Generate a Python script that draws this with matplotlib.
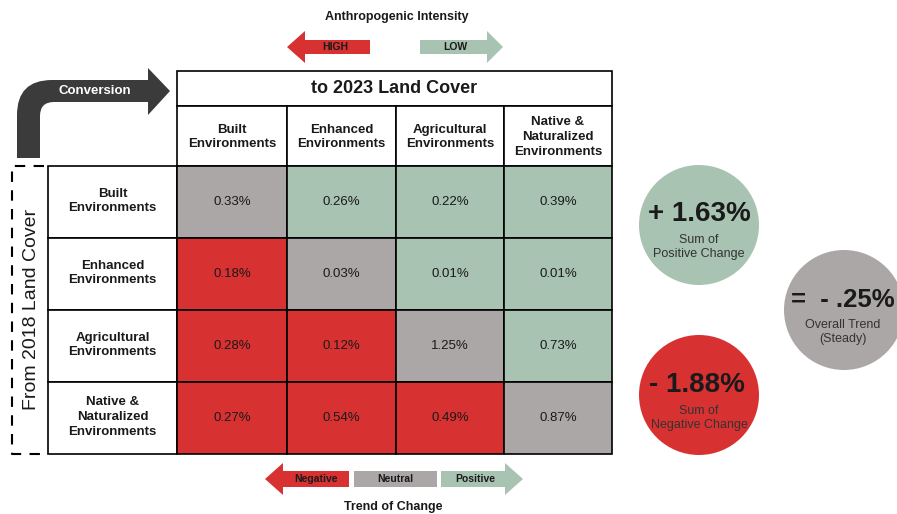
import matplotlib.pyplot as plt
from matplotlib.patches import Rectangle, Circle, Polygon, PathPatch
from matplotlib.path import Path

plt.rcParams['font.family'] = ['Liberation Sans', 'DejaVu Sans']

# data
land_types = ['Built\nEnvironments', 'Enhanced\nEnvironments',
              'Agricultural\nEnvironments', 'Native &\nNaturalized\nEnvironments']
values = [[0.33, 0.26, 0.22, 0.39],
          [0.18, 0.03, 0.01, 0.01],
          [0.28, 0.12, 1.25, 0.73],
          [0.27, 0.54, 0.49, 0.87]]
pos_label = '+ 1.63%'
neg_label = '- 1.88%'
trend_label = '=  - .25%'

RED = '#d83131'
GREEN = '#a8c3b1'
GRAY = '#aba7a6'
DARK = '#3b3b3b'
TXT = '#1a1a1a'

fig = plt.figure(figsize=(8.97, 5.14), dpi=100)
ax = fig.add_axes([0, 0, 1, 1])
ax.set_xlim(0, 897)
ax.set_ylim(514, 0)
ax.axis('off')

col_x = [177, 287, 396, 504, 612]
row_y = [166, 238, 310, 382, 454]
lab_x0 = 48

def cell_color(i, j):
    if i == j:
        return GRAY
    return GREEN if j > i else RED

# header
ax.add_patch(Rectangle((177, 71), 435, 35, fc='white', ec='black', lw=1.2))
ax.text(394.5, 88.5, 'to 2023 Land Cover', ha='center', va='center', fontsize=13,
        fontweight='bold', color=TXT)
for j, name in enumerate(land_types):
    ax.add_patch(Rectangle((col_x[j], 106), col_x[j+1]-col_x[j], 60, fc='white', ec='black', lw=1.2))
    ax.text((col_x[j]+col_x[j+1])/2, 137, name, ha='center', va='center', fontsize=9.5,
            fontweight='bold', linespacing=1.3, color=TXT)

# rows
for i, name in enumerate(land_types):
    y0, y1 = row_y[i], row_y[i+1]
    ax.add_patch(Rectangle((lab_x0, y0), col_x[0]-lab_x0, y1-y0, fc='white', ec='black', lw=1.2))
    ax.text((lab_x0+col_x[0])/2, (y0+y1)/2 - 1, name, ha='center', va='center', fontsize=9.5,
            fontweight='bold', linespacing=1.3, color=TXT)
    for j in range(4):
        ax.add_patch(Rectangle((col_x[j], y0), col_x[j+1]-col_x[j], y1-y0,
                               fc=cell_color(i, j), ec='black', lw=1.2))
        ax.text((col_x[j]+col_x[j+1])/2, (y0+y1)/2, '%.2f%%' % values[i][j],
                ha='center', va='center', fontsize=9.5, color=TXT)

# dashed bracket
ax.plot([44, 12, 12, 44], [166, 166, 454, 454], color='black', lw=1.5, ls=(0, (5, 4)))
ax.text(32, 309, 'From 2018 Land Cover', rotation=90, ha='center', va='center',
        fontsize=14, color=TXT)

# conversion arrow
verts = [(17, 158), (17, 115), (17, 80), (52, 80), (148, 80), (148, 68), (170, 91),
         (148, 115), (148, 102), (54, 102), (40, 102), (40, 116), (40, 158), (17, 158)]
codes = [Path.MOVETO, Path.LINETO, Path.CURVE3, Path.CURVE3, Path.LINETO, Path.LINETO,
         Path.LINETO, Path.LINETO, Path.LINETO, Path.LINETO, Path.CURVE3, Path.CURVE3,
         Path.LINETO, Path.CLOSEPOLY]
ax.add_patch(PathPatch(Path(verts, codes), fc=DARK, ec='none'))
ax.text(95, 91, 'Conversion', color='white', ha='center', va='center', fontsize=9.5, fontweight='bold')

def block_arrow(x_base, x_neck, x_tip, yc, half_body, half_head, color):
    pts = [(x_base, yc-half_body), (x_neck, yc-half_body), (x_neck, yc-half_head),
           (x_tip, yc), (x_neck, yc+half_head), (x_neck, yc+half_body), (x_base, yc+half_body)]
    ax.add_patch(Polygon(pts, closed=True, fc=color, ec='none'))

# intensity legend
ax.text(397, 17, 'Anthropogenic Intensity', ha='center', va='center', fontsize=9,
        fontweight='bold', color=TXT)
block_arrow(370, 305, 287, 47, 7, 16, RED)
ax.text(335, 47.5, 'HIGH', ha='center', va='center', fontsize=7.5, fontweight='bold', color=TXT)
block_arrow(420, 487, 503, 47, 7, 16, GREEN)
ax.text(455, 47, 'LOW', ha='center', va='center', fontsize=7.5, fontweight='bold', color=TXT)

# trend legend
block_arrow(349, 283, 265, 479, 8, 16, RED)
ax.text(316, 479.5, 'Negative', ha='center', va='center', fontsize=7.5, fontweight='bold', color=TXT)
ax.add_patch(Rectangle((354, 471), 83, 16, fc=GRAY, ec='none'))
ax.text(395.5, 479.5, 'Neutral', ha='center', va='center', fontsize=7.5, fontweight='bold', color=TXT)
block_arrow(441, 505, 523, 479, 8, 16, GREEN)
ax.text(475, 479.5, 'Positive', ha='center', va='center', fontsize=7.5, fontweight='bold', color=TXT)
ax.text(393, 507, 'Trend of Change', ha='center', va='center', fontsize=9, fontweight='bold', color=TXT)

# summary circles
ax.add_patch(Circle((699, 225), 60, fc=GREEN, ec='none'))
ax.text(699, 214, pos_label, ha='center', va='center', fontsize=20, fontweight='bold', color=TXT)
ax.text(699, 247, 'Sum of\nPositive Change', ha='center', va='center', fontsize=9,
        linespacing=1.3, color='#333333')
ax.add_patch(Circle((699, 395), 60, fc=RED, ec='none'))
ax.text(697, 385, neg_label, ha='center', va='center', fontsize=20, fontweight='bold', color=TXT)
ax.text(699, 418, 'Sum of\nNegative Change', ha='center', va='center', fontsize=9,
        linespacing=1.3, color='#333333')
ax.add_patch(Circle((844, 310), 60, fc=GRAY, ec='none'))
ax.text(843, 300, trend_label, ha='center', va='center', fontsize=18.5, fontweight='bold', color=TXT)
ax.text(843, 332, 'Overall Trend\n(Steady)', ha='center', va='center', fontsize=9,
        linespacing=1.3, color='#333333')

fig.savefig('out.png', dpi=100)
